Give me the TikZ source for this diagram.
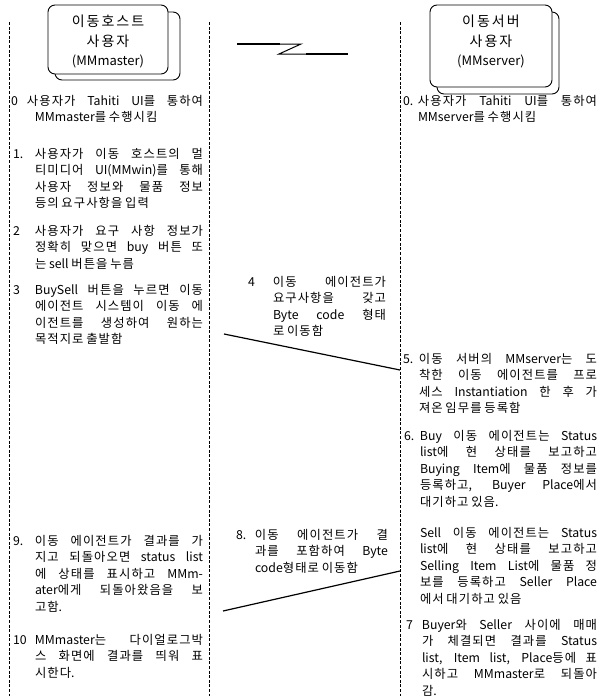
\documentclass[tikz,border=0pt]{standalone}
\usepackage{fontspec}
\setmainfont{Noto Sans CJK KR}
% extra spacing between Hangul syllables
\newdimen\hangulkern \hangulkern=1pt
\newcount\hcnt
\hcnt="AC00
\loop\global\XeTeXcharclass\hcnt=7 \advance\hcnt by 1 \ifnum\hcnt<"D7A4 \repeat
\global\XeTeXinterchartoks 7 7 = {\hskip\hangulkern\relax}
\newcommand{\boxsetup}{\fontsize{13pt}{19.5pt}\selectfont\XeTeXinterchartokenstate=1 \hangulkern=2pt\relax}
\newcommand{\bigkr}{\fontsize{14pt}{19.5pt}\selectfont}
\newcommand{\itm}[5]{\parbox[t]{#1}{\XeTeXinterchartokenstate=1 \hangulkern=1.1pt\relax
  \fontsize{12.3pt}{16.6pt}\selectfont
  \tolerance=10000\hbadness=10000\parfillskip=0pt plus 1fil
  \hangindent=#3\hangafter=1\noindent\makebox[#2][l]{#4}#5\par}}
\tikzset{
  col/.style={anchor=base west, inner sep=0pt, outer sep=0pt},
  lifeline/.style={dash pattern=on 3pt off 1.6pt, line width=0.9pt},
  msg/.style={line width=1.2pt},
  actor/.style={draw, line width=0.9pt, rounded corners=7pt, fill=white, inner sep=0pt},
  actortext/.style={align=center, inner sep=0pt, font=\boxsetup},
}
\begin{document}
\begin{tikzpicture}[x=1pt,y=-1pt]
\useasboundingbox (0,0) rectangle (601,696);
% lifelines
\draw[lifeline] (9,22) -- (9,696);
\draw[lifeline] (209,22) -- (209,696);
\draw[lifeline] (400,22) -- (400,696);
% actors
\node[actor, minimum width=125pt, minimum height=68pt] (mmshadow) at (117.5,46) {};
\node[actor, minimum width=120pt, minimum height=69pt] (mmbox) at (108,39.5) {};
\node[actortext] (mmtext) at (108,41.5) {{\bigkr 이동호스트}\\{\bigkr 사용자}\\(MMmaster)};
\node[actor, minimum width=122pt, minimum height=82pt] (msshadow) at (498,53) {};
\node[actor, minimum width=122pt, minimum height=82pt] (msbox) at (491,46) {};
\node[actortext] (mstext) at (491,41.5) {{\bigkr 이동서버}\\{\bigkr 사용자}\\(MMserver)};
% link symbol
\draw[line width=1pt] (280,44) -- (301,44) -- (279,54) -- (306,54);
\draw[line width=1.8pt] (237,44) -- (280,44);
\draw[line width=1.8pt] (306,54) -- (348,54);
% left column
\node[col] (L0) at (11,105) {\itm{192pt}{16pt}{24pt}{0}{사용자가 Tahiti UI를 통하여\linebreak MMmaster를 수행시킴}};
\node[col] (L1) at (13,158) {\itm{190pt}{22pt}{22pt}{1.}{사용자가 이동 호스트의 멀\linebreak 티미디어 UI(MMwin)를 통해\linebreak 사용자 정보와 물품 정보\linebreak 등의 요구사항을 입력}};
\node[col] (L2) at (13,235) {\itm{190pt}{22pt}{22pt}{2}{사용자가 요구 사항 정보가\linebreak 정확히 맞으면 buy 버튼 또\linebreak 는 sell 버튼을 누름}};
\node[col] (L3) at (13,294) {\itm{190pt}{22pt}{22pt}{3}{BuySell 버튼을 누르면 이동\linebreak 에이전트 시스템이 이동 에\linebreak 이전트를 생성하여 원하는\linebreak 목적지로 출발함}};
\node[col] (L9) at (13,545) {\itm{190pt}{22pt}{22pt}{9.}{이동 에이전트가 결과를 가\linebreak 지고 되돌아오면 status list\linebreak 에 상태를 표시하고 MMm-\linebreak ater에게 되돌아왔음을 보\linebreak 고함.}};
\node[col] (L10) at (13,644) {\itm{190pt}{22pt}{22pt}{10}{MMmaster는 다이얼로그박\linebreak 스 화면에 결과를 띄워 표\linebreak 시한다.}};
% middle column
\node[col] (M4) at (248,286) {\itm{138pt}{25pt}{25pt}{4}{이동 에이전트가\linebreak 요구사항을 갖고\linebreak Byte code 형태\linebreak 로 이동함}};
\node[col] (M8) at (236,539) {\itm{152pt}{19pt}{19pt}{8.}{이동 에이전트가 결\linebreak 과를 포함하여 Byte\linebreak code형태로 이동함}};
\coordinate (a4s) at (224,334);
\coordinate (a4e) at (400,370);
\draw[msg] (a4s) -- (a4e);
\coordinate (a8s) at (400,571);
\coordinate (a8e) at (223,611);
\draw[msg] (a8s) -- (a8e);
% right column
\node[col] (R0) at (403,105) {\itm{194pt}{15pt}{15pt}{0.}{사용자가 Tahiti UI를 통하여\linebreak MMserver를 수행시킴}};
\node[col] (R5) at (403,363) {\itm{194pt}{16pt}{16pt}{5.}{이동 서버의 MMserver는 도\linebreak 착한 이동 에이전트를 프로\linebreak 세스 Instantiation 한 후 가\linebreak 져온 임무를 등록함}};
\node[col] (R6) at (404,440) {\itm{193pt}{16pt}{16pt}{6.}{Buy 이동 에이전트는 Status\linebreak list에 현 상태를 보고하고\linebreak Buying Item에 물품 정보를\linebreak 등록하고, Buyer Place에서\linebreak 대기하고 있음.}};
\node[col] (RS) at (404,537) {\itm{193pt}{16pt}{16pt}{}{Sell 이동 에이전트는 Status\linebreak list에 현 상태를 보고하고\linebreak Selling Item List에 물품 정\linebreak 보를 등록하고 Seller Place\linebreak 에서 대기하고 있음}};
\node[col] (R7) at (406,629) {\itm{191pt}{16pt}{16pt}{7}{Buyer와 Seller 사이에 매매\linebreak 가 체결되면 결과를 Status\linebreak list, Item list, Place등에 표\linebreak 시하고 MMmaster로 되돌아\linebreak 감.}};
\end{tikzpicture}
\end{document}
